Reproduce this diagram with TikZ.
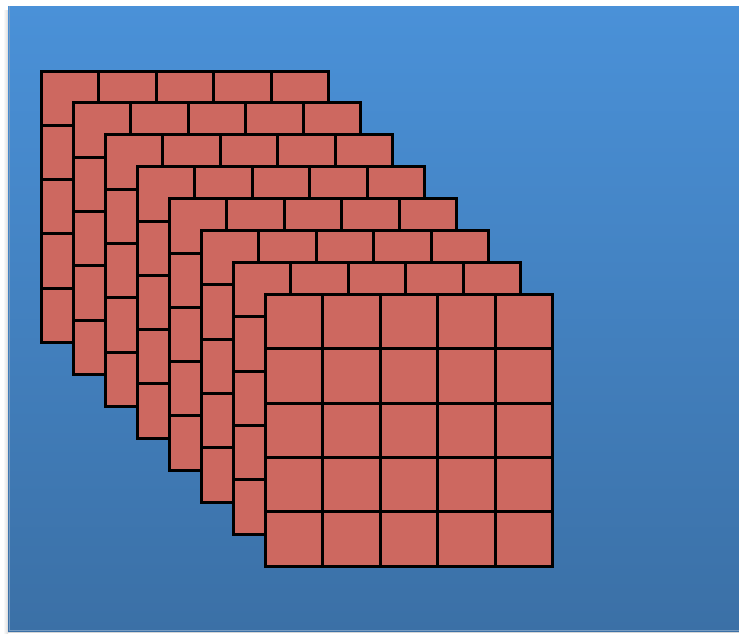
\documentclass[tikz,border=0pt]{standalone}
\definecolor{cellred}{RGB}{205,104,96}
\definecolor{bgtop}{RGB}{74,145,216}
\definecolor{bgbot}{RGB}{59,112,166}
\begin{document}
\begin{tikzpicture}[x=1pt,y=-1pt,
  gridline/.style={line width=3pt,black},
  panel/.style={fill=cellred}]
\useasboundingbox (0,0) rectangle (739,633);
\fill[white] (0,0) rectangle (739,633);
\shade[left color=white,right color=black!14] (3,10) rectangle (8,633);
\fill[black!16] (8,631) rectangle (739,633);
\shade[top color=bgtop,bottom color=bgbot] (8,6) rectangle (739,631);
\draw[line width=1pt,bgbot!70!white] (9,6) -- (9,630.5) -- (739,630.5);
\foreach \i in {0,...,7}{
  \begin{scope}[shift={(41+32*\i,71+31.93*\i)}]
    \fill[panel] (0,0) rectangle (287.5,271.5);
    \foreach \k in {1,...,4}{
      \draw[gridline] ({57.5*\k},0) -- ({57.5*\k},271.5);
      \draw[gridline] (0,{54.3*\k}) -- (287.5,{54.3*\k});
    }
    \draw[gridline] (0,0) rectangle (287.5,271.5);
  \end{scope}
}
\end{tikzpicture}
\end{document}
